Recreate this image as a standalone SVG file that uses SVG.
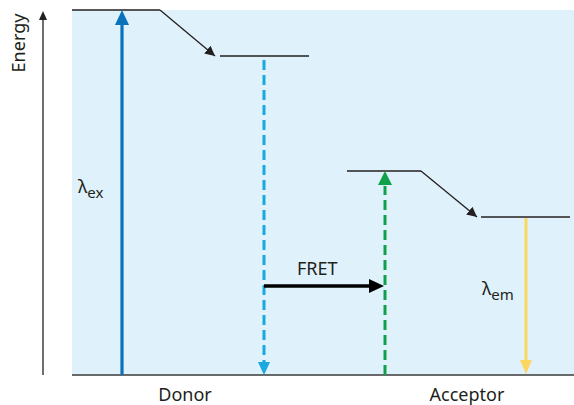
<svg xmlns="http://www.w3.org/2000/svg" width="574" height="405" viewBox="0 0 574 405">
<style>
text{font-family:"Noto Sans","Open Sans",sans-serif;font-size:18px;fill:#231f20}
.sub{font-size:15px}
.lvl{stroke:#231f20;stroke-width:1.5;fill:none}
.thin{stroke:#231f20;stroke-width:1.3;fill:none}
</style>
<defs>
<marker id="blk" viewBox="0 0 10 10" refX="10" refY="5" markerWidth="10" markerHeight="10" markerUnits="userSpaceOnUse" orient="auto"><path d="M0,0 L10,5 L0,10 z" fill="#231f20"/></marker>
</defs>
<rect id="bg" x="72" y="10" width="502" height="365" fill="#dff1fa"/>
<g id="axes">
<line x1="43" y1="375" x2="43" y2="18" class="thin"/>
<path d="M43,11 L39,20 L47,20 z" fill="#231f20"/>
<line x1="72" y1="375" x2="574" y2="375" stroke="#3a3a3a" stroke-width="1.5"/>
<text transform="translate(25,43) rotate(-90)" text-anchor="middle">Energy</text>
</g>
<g id="donor">
<line x1="72" y1="10" x2="160" y2="10" class="lvl"/>
<line x1="220" y1="56" x2="309" y2="56" class="lvl"/>
<text x="185" y="401" text-anchor="middle">Donor</text>
</g>
<g id="acceptor">
<line x1="347" y1="171" x2="421" y2="171" class="lvl"/>
<line x1="481" y1="217" x2="570" y2="217" class="lvl"/>
<text x="467" y="401" text-anchor="middle">Acceptor</text>
</g>
<g id="connectors">
<line x1="160" y1="10" x2="215" y2="56" class="thin" marker-end="url(#blk)"/>
<line x1="421" y1="171" x2="477" y2="217" class="thin" marker-end="url(#blk)"/>
<line x1="122" y1="375" x2="122" y2="22" stroke="#0a72bb" stroke-width="3.2"/>
<path d="M122,10 L115,25 L129,25 z" fill="#0a72bb"/>
<line x1="264" y1="60" x2="264" y2="362" stroke="#1aa9df" stroke-width="3" stroke-dasharray="10,5"/>
<path d="M264,375 L258,362 L270,362 z" fill="#1aa9df"/>
<line x1="264" y1="286" x2="372" y2="286" stroke="#000" stroke-width="3.5"/>
<path d="M384,286 L369,279 L369,293 z" fill="#000"/>
<line x1="385" y1="375" x2="385" y2="186" stroke="#0fa14a" stroke-width="3" stroke-dasharray="10,5"/>
<path d="M385,171 L378,185 L392,185 z" fill="#0fa14a"/>
<line x1="526" y1="218" x2="526" y2="362" stroke="#fdd661" stroke-width="3"/>
<path d="M526,374 L520,360 L532,360 z" fill="#fdd661"/>
</g>
<g id="labels">
<text x="78" y="193" font-size="19">λ<tspan class="sub" dy="5">ex</tspan></text>
<text x="482" y="295" font-size="19">λ<tspan class="sub" dy="5">em</tspan></text>
<text x="297" y="275">FRET</text>
</g>
</svg>
